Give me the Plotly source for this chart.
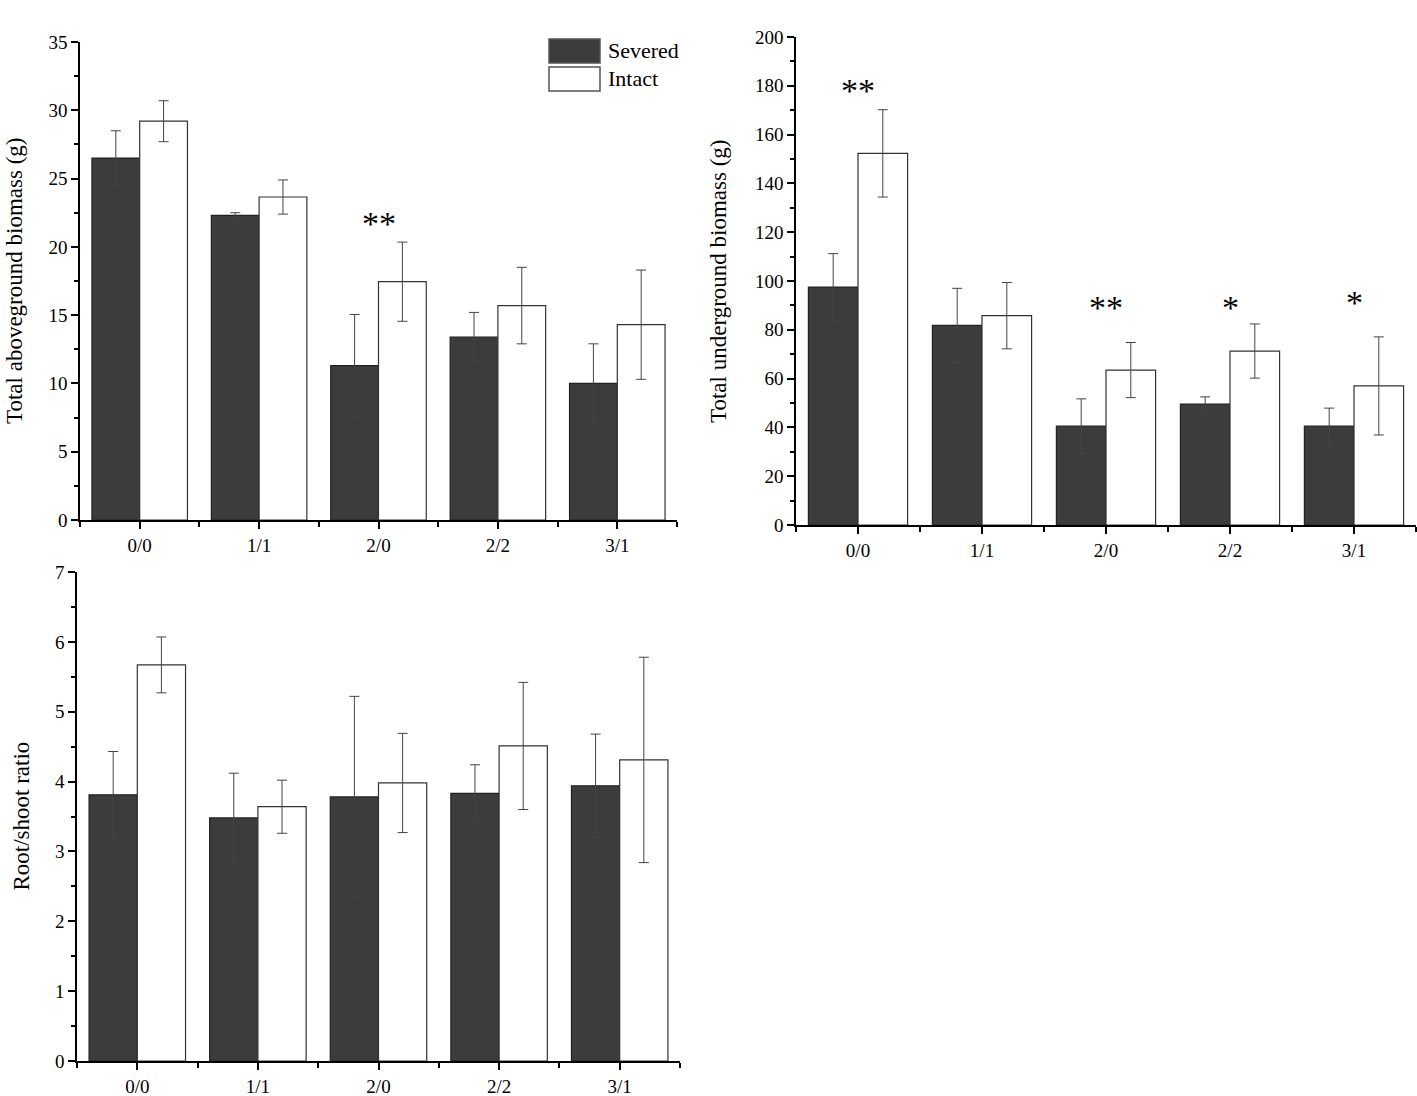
import plotly.graph_objects as go

categories = ['0/0', '1/1', '2/0', '2/2', '3/1']

# Total aboveground biomass (g)
above_severed = [26.5, 22.3, 11.3, 13.4, 10.0]
above_severed_err = [2.0, 0.2, 3.75, 1.8, 2.9]
above_intact = [29.2, 23.65, 17.45, 15.7, 14.3]
above_intact_err = [1.5, 1.25, 2.9, 2.8, 4.0]

# Total underground biomass (g)
under_severed = [97.5, 81.8, 40.5, 49.6, 40.5]
under_severed_err = [13.7, 15.2, 11.2, 2.9, 7.4]
under_intact = [152.3, 85.8, 63.5, 71.3, 57.0]
under_intact_err = [17.9, 13.6, 11.3, 11.1, 20.1]

# Root/shoot ratio
ratio_severed = [3.81, 3.48, 3.78, 3.83, 3.94]
ratio_severed_err = [0.62, 0.64, 1.44, 0.41, 0.74]
ratio_intact = [5.67, 3.64, 3.98, 4.51, 4.31]
ratio_intact_err = [0.40, 0.38, 0.71, 0.91, 1.47]

# significance marks: (panel, category index, y, text)
sig_marks = [
    (1, 2, 21.7, '**'),
    (2, 0, 178, '**'),
    (2, 2, 89, '**'),
    (2, 3, 89, '*'),
    (2, 4, 91, '*'),
]

FONT = 'Liberation Serif'
DARK = '#3c3c3c'
xpos = list(range(len(categories)))

fig = go.Figure()

panels = [
    (1, above_severed, above_severed_err, above_intact, above_intact_err),
    (2, under_severed, under_severed_err, under_intact, under_intact_err),
    (3, ratio_severed, ratio_severed_err, ratio_intact, ratio_intact_err),
]

for n, sev, sev_err, intc, intc_err in panels:
    xa = 'x' if n == 1 else f'x{n}'
    ya = 'y' if n == 1 else f'y{n}'
    fig.add_trace(go.Bar(
        x=xpos, y=sev, name='Severed', xaxis=xa, yaxis=ya,
        marker=dict(color=DARK, line=dict(color='#222', width=1.2)),
        error_y=dict(type='data', array=sev_err, color='#444', thickness=1, width=5),
        showlegend=False, offsetgroup='s',
    ))
    fig.add_trace(go.Bar(
        x=xpos, y=intc, name='Intact', xaxis=xa, yaxis=ya,
        marker=dict(color='white', line=dict(color='#333', width=1.2)),
        error_y=dict(type='data', array=intc_err, color='#444', thickness=1, width=5),
        showlegend=False, offsetgroup='i',
    ))

boundaries = [i + 0.5 for i in range(-1, len(categories))]

def xaxis_style(domain, anchor):
    return dict(
        domain=domain, anchor=anchor, range=[-0.5, 4.5], automargin=False,
        tickvals=xpos, ticktext=categories,
        showline=True, linecolor='black', linewidth=1.5,
        ticks='outside', ticklen=7, tickwidth=1.5, tickcolor='black',
        minor=dict(tickvals=boundaries, ticks='outside', ticklen=5,
                   tickwidth=1.5, tickcolor='black'),
        showgrid=False, zeroline=False,
        tickfont=dict(family=FONT, size=19, color='black'),
    )

def yaxis_style(domain, anchor, rng, dtick):
    return dict(
        domain=domain, anchor=anchor, range=rng, dtick=dtick, automargin=False,
        showline=True, linecolor='black', linewidth=1.5,
        ticks='outside', ticklen=7, tickwidth=1.5, tickcolor='black',
        minor=dict(dtick=dtick / 2, ticks='outside', ticklen=4,
                   tickwidth=1.5, tickcolor='black', showgrid=False),
        showgrid=False, zeroline=False,
        tickfont=dict(family=FONT, size=19, color='black'),
    )

W, H = 1417, 1096
def px_x(a, b):
    return [a / W, b / W]
def px_y(top, bottom):
    return [1 - bottom / H, 1 - top / H]

fig.update_layout(
    width=W, height=H,
    margin=dict(l=0, r=0, t=0, b=0, autoexpand=False),
    paper_bgcolor='white', plot_bgcolor='white',
    barmode='group', bargap=0.2, bargroupgap=0,
    font=dict(family=FONT, color='black'),
    xaxis=xaxis_style(px_x(80, 677), 'y'),
    yaxis=yaxis_style(px_y(42, 520), 'x', [0, 35], 5),
    xaxis2=xaxis_style(px_x(796, 1416), 'y2'),
    yaxis2=yaxis_style(px_y(37, 525), 'x2', [0, 200], 20),
    xaxis3=xaxis_style(px_x(77, 680), 'y3'),
    yaxis3=yaxis_style(px_y(572, 1061), 'x3', [0, 7], 1),
)

# y axis titles
titles = [
    ('Total aboveground biomass (g)', 14, px_y(42, 520)),
    ('Total underground biomass (g)', 719, px_y(37, 525)),
    ('Root/shoot ratio', 21, px_y(572, 1061)),
]
for text, xc, dom in titles:
    fig.add_annotation(
        text=text, xref='paper', yref='paper', x=xc / W, y=sum(dom) / 2,
        textangle=-90, showarrow=False, xanchor='center', yanchor='middle',
        font=dict(family=FONT, size=23, color='black'),
    )

# significance asterisks
for n, idx, yv, txt in sig_marks:
    xa = 'x' if n == 1 else f'x{n}'
    ya = 'y' if n == 1 else f'y{n}'
    fig.add_annotation(
        text=txt, xref=xa, yref=ya, x=xpos[idx], y=yv, showarrow=False,
        xanchor='center', yanchor='middle',
        font=dict(family=FONT, size=34, color='black'),
    )

# legend drawn as boxes
legend_items = [('Severed', DARK, 39, 63), ('Intact', 'white', 67, 91)]
for label, color, top, bottom in legend_items:
    fig.add_shape(
        type='rect', xref='paper', yref='paper',
        x0=549 / W, x1=600 / W, y0=1 - bottom / H, y1=1 - top / H,
        fillcolor=color, line=dict(color='#555', width=1.5),
    )
    fig.add_annotation(
        text=label, xref='paper', yref='paper', x=606 / W,
        y=1 - (top + bottom) / 2 / H, showarrow=False,
        xanchor='left', yanchor='middle',
        font=dict(family=FONT, size=22, color='black'),
    )

# pin the plot to the page's top-left corner
pin = ("document.body.style.margin='0';"
       "var gd=document.getElementById('{plot_id}');"
       "gd.style.position='absolute';gd.style.left='0px';gd.style.top='0px';")
fig.write_html('out.html', post_script=pin, config={'displayModeBar': False})
